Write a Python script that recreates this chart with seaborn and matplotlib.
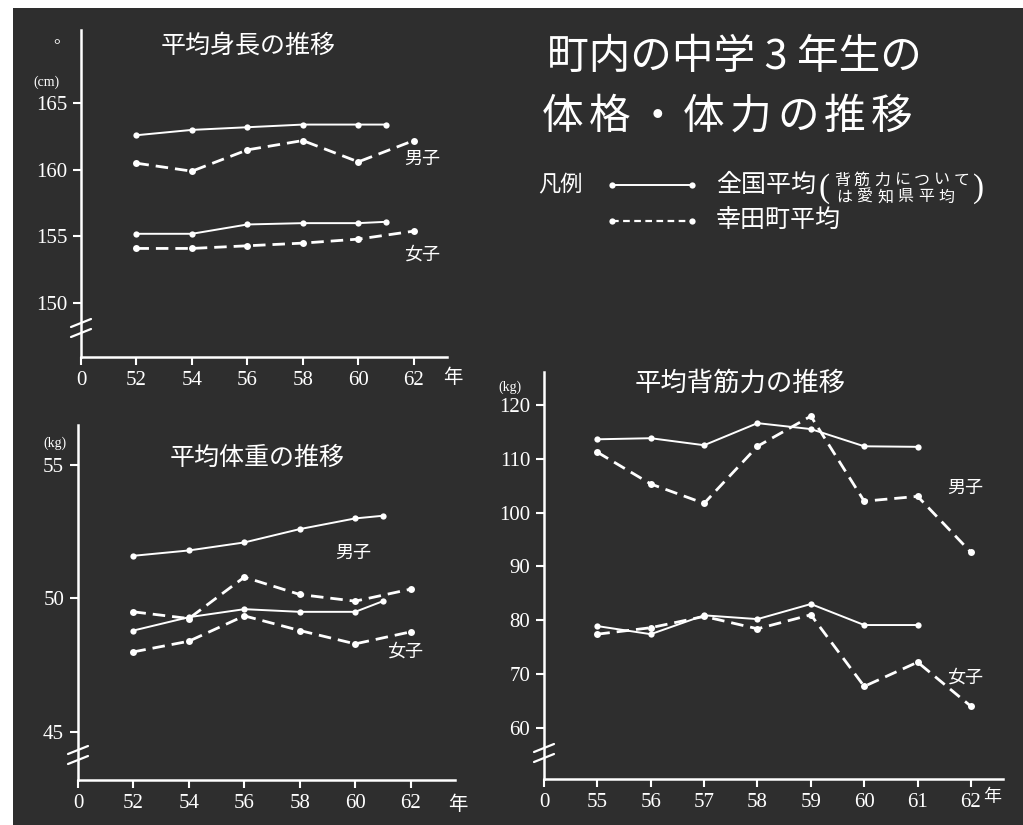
import seaborn as sns
import matplotlib.pyplot as plt
from matplotlib.patches import Rectangle
from matplotlib.lines import Line2D

# data (years are Showa years)
h_years_nat = [52, 54, 56, 58, 60, 61]
h_years_town = [52, 54, 56, 58, 60, 62]
h_boys_nat = [162.6, 163.0, 163.2, 163.4, 163.4, 163.4]
h_boys_town = [160.5, 159.9, 161.5, 162.2, 160.6, 162.2]
h_girls_nat = [155.2, 155.2, 155.9, 156.0, 156.0, 156.1]
h_girls_town = [154.1, 154.1, 154.3, 154.5, 154.8, 155.4]

w_years_nat = [52, 54, 56, 58, 60, 61]
w_years_town = [52, 54, 56, 58, 60, 62]
w_boys_nat = [51.6, 51.8, 52.1, 52.6, 53.0, 53.1]
w_boys_town = [49.5, 49.25, 50.8, 50.15, 49.9, 50.35]
w_girls_nat = [48.8, 49.3, 49.6, 49.5, 49.5, 49.9]
w_girls_town = [48.0, 48.4, 49.35, 48.8, 48.3, 48.75]

s_years_nat = [55, 56, 57, 58, 59, 60, 61]
s_years_town = [55, 56, 57, 58, 59, 60, 61, 62]
s_boys_nat = [113.6, 113.8, 112.5, 116.6, 115.5, 112.3, 112.2]
s_boys_town = [111.2, 105.3, 101.7, 112.3, 117.9, 102.1, 103.0, 92.6]
s_girls_nat = [78.9, 77.4, 80.9, 80.2, 83.0, 79.1, 79.1]
s_girls_town = [77.4, 78.6, 80.7, 78.4, 81.0, 67.7, 72.2, 64.0]

hw_ticks = [50, 52, 54, 56, 58, 60, 62]
hw_labels = ['0', '52', '54', '56', '58', '60', '62']
s_ticks = [54, 55, 56, 57, 58, 59, 60, 61, 62]
s_labels = ['0', '55', '56', '57', '58', '59', '60', '61', '62']

BG = '#2e2e2e'
FG = 'white'
W, H = 1023, 825
JP = ['Noto Sans CJK JP', 'DejaVu Sans']

sns.set_theme(style='ticks')
plt.rcParams['font.family'] = ['Liberation Serif', 'Noto Sans CJK JP']

fig = plt.figure(figsize=(W / 100, H / 100), dpi=100, facecolor='white')
fig.add_artist(Rectangle((13 / W, 0), 1 - 13 / W, 1 - 8 / H, transform=fig.transFigure,
                         facecolor=BG, edgecolor='none', zorder=-5))


def px_axes(l, t, r, b):
    return fig.add_axes([l / W, 1 - b / H, (r - l) / W, (b - t) / H])


def T(x, y, s, size, ha='center', **kw):
    fig.text(x / W, 1 - y / H, s, fontsize=size, color=FG, ha=ha, va='center', **kw)


def spaced(x0, y, s, pitch, size, **kw):
    for i, ch in enumerate(s):
        T(x0 + i * pitch, y, ch, size, **kw)


def brk(xc, yc):
    for dy in (-5, 5):
        fig.add_artist(Line2D([(xc - 10) / W, (xc + 10) / W],
                              [1 - (yc + dy + 4) / H, 1 - (yc + dy - 4) / H],
                              color=FG, lw=1.6, transform=fig.transFigure))


def style(ax, xlim, ylim, xticks, xlabels, yticks):
    ax.set_facecolor('none')
    ax.set_xlim(xlim)
    ax.set_ylim(ylim)
    for s in ['top', 'right']:
        ax.spines[s].set_visible(False)
    for s in ['left', 'bottom']:
        ax.spines[s].set_color(FG)
        ax.spines[s].set_linewidth(1.8)
    ax.set_xticks(xticks, xlabels)
    ax.set_yticks(yticks)
    ax.tick_params(colors=FG, labelcolor=FG, labelsize=15, length=6, width=1.5,
                   direction='out', pad=4)
    ax.set_xlabel('')
    ax.set_ylabel('')
    ax.grid(False)


def series(ax, x, y, dashed):
    if dashed:
        sns.lineplot(x=x, y=y, ax=ax, color=FG, linewidth=2.0, marker='o', markersize=5,
                     markeredgewidth=0)
        ax.lines[-1].set_dashes((4.5, 2.5))
    else:
        sns.lineplot(x=x, y=y, ax=ax, color=FG, linewidth=1.4, marker='o', markersize=4.5,
                     markeredgewidth=0)


# average height
ax1 = px_axes(81, 30, 447, 357)
series(ax1, h_years_nat, h_boys_nat, False)
series(ax1, h_years_town, h_boys_town, True)
series(ax1, h_years_nat, h_girls_nat, False)
series(ax1, h_years_town, h_girls_town, True)
style(ax1, (50, 63.2), (145.95, 170.5), hw_ticks, hw_labels, [150, 155, 160, 165])

# average weight
ax2 = px_axes(78, 425, 455, 780)
series(ax2, w_years_nat, w_boys_nat, False)
series(ax2, w_years_town, w_boys_town, True)
series(ax2, w_years_nat, w_girls_nat, False)
series(ax2, w_years_town, w_girls_town, True)
style(ax2, (50, 63.6), (43.2, 56.5), hw_ticks, hw_labels, [45, 50, 55])

# average back strength
ax3 = px_axes(544, 372, 1003, 779)
series(ax3, s_years_nat, s_boys_nat, False)
series(ax3, s_years_town, s_boys_town, True)
series(ax3, s_years_nat, s_girls_nat, False)
series(ax3, s_years_town, s_girls_town, True)
style(ax3, (54, 62.6), (50.5, 126.1), s_ticks, s_labels, [60, 70, 80, 90, 100, 110, 120])

brk(81, 328)
brk(78, 755)
brk(544, 753)

# panel texts
T(248, 46, '平均身長の推移', 18, family=JP)
T(257, 458, '平均体重の推移', 18, family=JP)
T(740, 383, '平均背筋力の推移', 19, family=JP)
T(422, 159, '男子', 13, family=JP)
T(422, 255, '女子', 13, family=JP)
T(353, 553, '男子', 13, family=JP)
T(405, 652, '女子', 13, family=JP)
T(965, 488, '男子', 13, family=JP)
T(965, 678, '女子', 13, family=JP)
T(453, 377, '年', 14, family=JP)
T(458, 805, '年', 14, family=JP)
T(992, 797, '年', 13, family=JP)
T(46, 82, '(cm)', 10)
T(55, 443, '(kg)', 10)
T(510, 387, '(kg)', 10)
T(57, 46, '°', 12)

# big title
T(734, 57, '町内の中学 3 年生の', 30, family=JP)
spaced(563, 117, '体格・体力の推移', 47, 30, family=JP)

# legend
T(560, 185, '凡例', 16, family=JP)
fig.add_artist(Line2D([612 / W, 692 / W], [1 - 185 / H, 1 - 185 / H], color=FG, lw=1.4,
                      marker='o', markersize=4.5, markeredgewidth=0, transform=fig.transFigure))
fig.add_artist(Line2D([612 / W, 692 / W], [1 - 221 / H, 1 - 221 / H], color=FG, lw=1.6,
                      dashes=(3, 2), marker='o', markersize=4.5, markeredgewidth=0,
                      transform=fig.transFigure))
T(716, 185, '全国平均', 18, ha='left', family=JP)
T(716, 221, '幸田町平均', 18, ha='left', family=JP)
T(824, 189, '(', 24)
T(979, 189, ')', 24)
spaced(842, 180, '背筋力について', 20, 11.5, family=JP)
spaced(844, 197, 'は愛知県平均', 20.5, 11.5, family=JP)

fig.savefig('out.png', dpi=100, facecolor=fig.get_facecolor())
